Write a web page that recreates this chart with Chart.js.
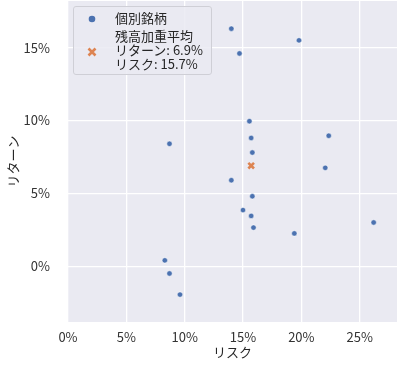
<!DOCTYPE html>
<html>
<head>
<meta charset="utf-8">
<script src="https://cdn.jsdelivr.net/npm/chart.js@4"></script>
<style>
  body { margin: 0; background: #fff; }
  #wrap { position: relative; width: 406px; height: 367px; }
  #legend {
    position: absolute; left: 73px; top: 6px; width: 137px; height: 67px;
    background: rgba(234, 234, 242, 0.85); border: 1px solid #cfcfd6; border-radius: 3px;
    font-family: 'Noto Sans CJK JP', 'Noto Sans', sans-serif; font-size: 13px; color: #262626;
  }
  .row { position: absolute; left: 41px; line-height: 14px; white-space: nowrap; }
  .mk { position: absolute; }
</style>
</head>
<body>
<div id="wrap">
  <canvas id="grafico"></canvas>
  <div id="legend">
    <svg class="mk" style="left:13px;top:7px" width="10" height="10"><circle cx="5" cy="5" r="3.3" fill="#4C72B0"/></svg>
    <div class="row" style="top:4px">個別銘柄</div>
    <svg class="mk" style="left:13px;top:40px" width="10" height="10">
      <path d="M1.5 1.5 L8.5 8.5 M8.5 1.5 L1.5 8.5" stroke="#DD8452" stroke-width="2.6"/>
    </svg>
    <div class="row" style="top:22px">残高加重平均<br>リターン: 6.9%<br>リスク: 15.7%</div>
  </div>
</div>
<script>
// リスク / リターン (%)
const riscoX = [14.0, 19.8, 14.7, 8.7, 15.55, 15.7, 15.8, 22.35, 22.05, 14.0, 15.8, 15.0, 15.7, 15.9, 19.4, 26.2, 8.3, 8.7, 9.6];
const retornoY = [16.3, 15.5, 14.6, 8.4, 9.95, 8.8, 7.8, 8.95, 6.75, 5.9, 4.8, 3.85, 3.45, 2.65, 2.25, 3.0, 0.4, -0.5, -1.95];
const mediaX = [15.7];
const mediaY = [6.9];
const xTicks = [0, 5, 10, 15, 20, 25];
const yTicks = [0, 5, 10, 15];

const pontos = riscoX.map((x, i) => ({ x: x, y: retornoY[i] }));
const media = mediaX.map((x, i) => ({ x: x, y: mediaY[i] }));

// fundo cinza da área do gráfico
const fundo = {
  id: 'fundo',
  beforeDraw(chart) {
    const { ctx, chartArea: a } = chart;
    ctx.save();
    ctx.fillStyle = '#EAEAF2';
    ctx.fillRect(a.left, a.top, a.right - a.left, a.bottom - a.top);
    ctx.restore();
  }
};

const fonte = { family: "'Noto Sans CJK JP', 'Noto Sans', sans-serif", size: 13 };

function rotulo(lista) {
  return (v) => lista.includes(v) ? v + '%' : '';
}

function semPadding(s) {
  s.paddingLeft = 0; s.paddingRight = 0; s.paddingTop = 0; s.paddingBottom = 0;
}

new Chart(document.getElementById('grafico'), {
  type: 'scatter',
  data: {
    datasets: [
      { label: '個別銘柄', data: pontos, backgroundColor: '#4C72B0', borderColor: '#ffffff', borderWidth: 0.5, pointRadius: 2.7 },
      { label: '残高加重平均', data: media, pointStyle: 'crossRot', borderColor: '#DD8452', borderWidth: 2.6, pointRadius: 4 }
    ]
  },
  options: {
    responsive: true,
    maintainAspectRatio: false,
    animation: false,
    layout: { autoPadding: false, padding: { top: 1, right: 9, left: 0, bottom: 0 } },
    plugins: { legend: { display: false }, tooltip: { enabled: false } },
    scales: {
      x: {
        type: 'linear', min: 0, max: 28.2,
        afterFit: (s) => { s.height = 45; semPadding(s); },
        grid: { color: '#ffffff', lineWidth: 1.3, drawTicks: false },
        border: { display: false },
        ticks: { stepSize: 5, includeBounds: false, color: '#333333', font: fonte, padding: 7, callback: rotulo(xTicks) },
        title: { display: true, text: 'リスク', color: '#262626', font: fonte, padding: { top: 0, bottom: 7 } }
      },
      y: {
        type: 'linear', min: -3.83, max: 18.2,
        afterFit: (s) => { s.width = 68; semPadding(s); },
        grid: { color: '#ffffff', lineWidth: 1.3, drawTicks: false },
        border: { display: false },
        ticks: { stepSize: 5, includeBounds: false, color: '#333333', font: fonte, padding: 18, callback: rotulo(yTicks) },
        title: { display: true, text: 'リターン', color: '#262626', font: fonte, padding: { top: 5, bottom: 0 } }
      }
    }
  },
  plugins: [fundo]
});
</script>
</body>
</html>
